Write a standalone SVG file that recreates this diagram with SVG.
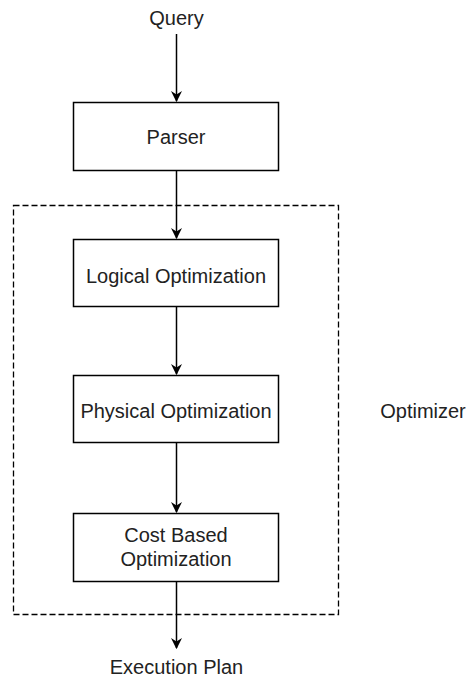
<svg xmlns="http://www.w3.org/2000/svg" width="468" height="679" viewBox="0 0 468 679">
<style>
.box{fill:#fff;stroke:#000;stroke-width:1.5}
.t{font-family:"Liberation Sans",Arial,sans-serif;font-size:20px;fill:#222;text-anchor:middle}
.e{stroke:#000;stroke-width:1.5;fill:none}
</style>
<defs>
<marker id="ah" viewBox="0 0 10 10" refX="9" refY="5" markerWidth="11" markerHeight="11" markerUnits="userSpaceOnUse" orient="auto">
<path d="M0,0 L10,5 L0,10 L3,5 Z" fill="#000"/>
</marker>
</defs>
<rect id="optimizer" x="13.5" y="205.5" width="325" height="409" fill="none" stroke="#000" stroke-width="1.3" stroke-dasharray="6,3"/>
<g id="edges">
<line class="e" x1="176.5" y1="34" x2="176.5" y2="101" marker-end="url(#ah)"/>
<line class="e" x1="176.5" y1="171" x2="176.5" y2="238" marker-end="url(#ah)"/>
<line class="e" x1="176.5" y1="307" x2="176.5" y2="374" marker-end="url(#ah)"/>
<line class="e" x1="176.5" y1="443" x2="176.5" y2="512" marker-end="url(#ah)"/>
<line class="e" x1="176.5" y1="582" x2="176.5" y2="648" marker-end="url(#ah)"/>
</g>
<g id="query"><text class="t" x="176.5" y="25">Query</text></g>
<g id="parser"><rect class="box" x="73.5" y="102.5" width="205" height="68"/><text class="t" x="176" y="144">Parser</text></g>
<g id="logical"><rect class="box" x="73.5" y="239.5" width="205" height="67"/><text class="t" x="176" y="283">Logical Optimization</text></g>
<g id="physical"><rect class="box" x="73.5" y="375.5" width="205" height="67"/><text class="t" x="176" y="418">Physical Optimization</text></g>
<g id="cost"><rect class="box" x="73.5" y="513.5" width="205" height="68"/><text class="t" x="176" y="542">Cost Based</text><text class="t" x="176" y="566">Optimization</text></g>
<g id="plan"><text class="t" x="176.5" y="674">Execution Plan</text></g>
<g id="optimizer-label"><text class="t" x="423" y="418">Optimizer</text></g>
</svg>
